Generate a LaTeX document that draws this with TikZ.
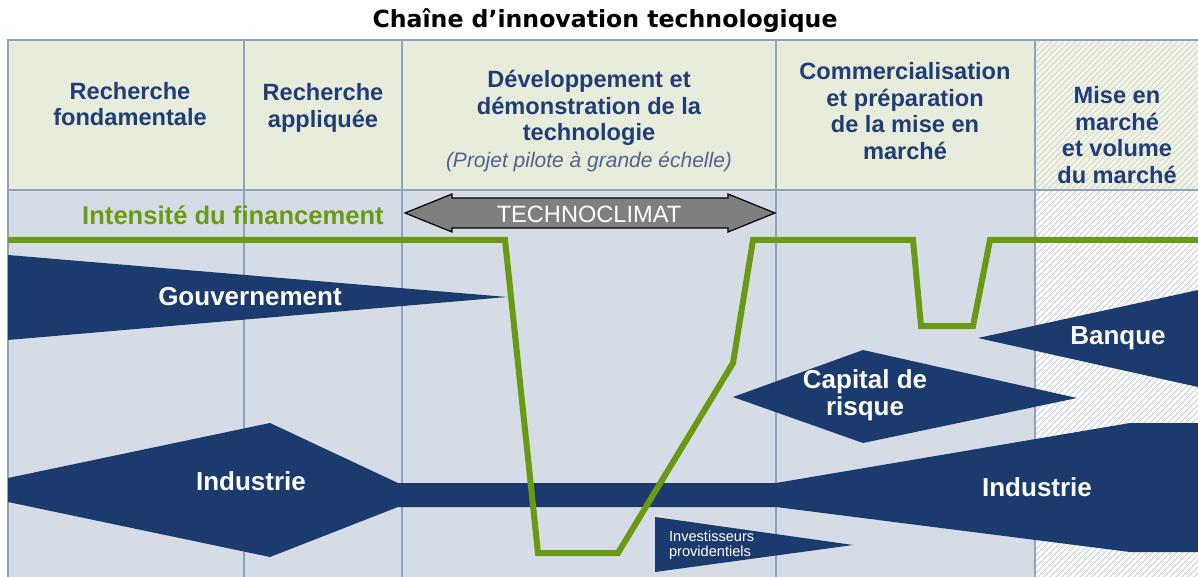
\documentclass[tikz,border=0pt]{standalone}
\usepackage{fontspec}
\setmainfont{Liberation Sans}
\newfontfamily\titlefont{DejaVu Sans}
\usepackage{tikz}
\usetikzlibrary{patterns}
\definecolor{navy}{HTML}{1B3A6E}
\definecolor{headblue}{HTML}{1F3E77}
\definecolor{subblue}{HTML}{4E6490}
\definecolor{headbg}{HTML}{E8ECDA}
\definecolor{lowbg}{HTML}{D6DCE6}
\definecolor{hatchtop}{HTML}{F2F4EA}
\definecolor{hatchtopline}{HTML}{D2D8C2}
\definecolor{hatchline}{HTML}{C6CCD8}
\definecolor{divcol}{HTML}{8EA2C2}
\definecolor{finvert}{HTML}{6A9A14}
\definecolor{arrowgrey}{HTML}{7F7F7F}

\tikzset{
  divider/.style={divcol, line width=1pt},
  financement/.style={finvert, line width=3pt},
  flux/.style={fill=navy},
  fluxtext/.style={text=white, font=\bfseries\fontsize{13}{13.5}\selectfont, align=center},
  head/.style={text=headblue, font=\bfseries\fontsize{11.8}{13.3}\selectfont, align=center}
}

\begin{document}
\begin{tikzpicture}[x=0.5pt, y=-0.5pt]

\useasboundingbox (0,0) rectangle (1198,577);

% fonds
\fill[headbg] (8,40) rectangle (1035,190);
\fill[lowbg] (8,190) rectangle (1198,577);
\fill[hatchtop] (1035,40) rectangle (1198,190);
\fill[pattern=north east lines, pattern color=hatchtopline] (1035,40) rectangle (1198,190);
\fill[white] (1035,190) rectangle (1198,577);
\fill[pattern=north east lines, pattern color=hatchline] (1035,190) rectangle (1198,577);

% cadre et colonnes
\draw[divider] (1198,40) -- (8,40) -- (8,577);
\draw[divider] (8,190) -- (1198,190);
\foreach \x in {244,402,776,1035}
  \draw[divider] (\x,40) -- (\x,577);

% titre
\node[font=\titlefont\bfseries\fontsize{11.8}{14}\selectfont] (titre) at (605,21) {Chaîne d’innovation technologique};

% en-tetes
\node[head] (fondam) at (130,104) {Recherche\\fondamentale};
\node[head] (appliq) at (323,108) {Recherche\\appliquée};
\node[head] (demo) at (589,121) {Développement et\\démonstration de la\\technologie\\{\mdseries\itshape\fontsize{10.5}{13.3}\selectfont\color{subblue}(Projet pilote à grande échelle)}};
\node[head] (commerc) at (905,111) {Commercialisation\\et préparation\\de la mise en\\marché};
\node[head] (marche) at (1117,135) {Mise en\\marché\\et volume\\du marché};

% flux de financement
\fill[flux] (8,255) -- (507,297) -- (8,340) -- cycle;
\node[fluxtext] (gouv) at (250,297) {Gouvernement};

\fill[flux] (8,478) -- (270,423) -- (398,483) -- (776,483) -- (1130,423) -- (1198,423)
  -- (1198,552) -- (1130,552) -- (776,507) -- (398,507) -- (270,557) -- (8,502) -- cycle;
\node[fluxtext] (indus1) at (251,481) {Industrie};
\node[fluxtext] (indus2) at (1037,487) {Industrie};

\fill[flux] (733,397) -- (863,350) -- (1077,398) -- (863,443) -- cycle;
\node[fluxtext] (capital) at (865,395) {Capital de\\risque};

\fill[flux] (978,338) -- (1198,290) -- (1198,387) -- cycle;
\node[fluxtext] (banque) at (1118,338) {Banque};

\fill[flux] (655,517) -- (853,545) -- (655,572) -- cycle;
\node[text=white, font=\fontsize{7.3}{7.6}\selectfont, align=left, anchor=west] (invest) at (662,545) {Investisseurs\\providentiels};

% TECHNOCLIMAT
\draw[fill=arrowgrey, line width=0.6pt] (405,213) -- (452,194) -- (452,198) -- (728,198) -- (728,194)
  -- (775,213) -- (728,232) -- (728,228) -- (452,228) -- (452,232) -- cycle;
\node[text=white, font=\fontsize{11.8}{13}\selectfont] (techno) at (589,214) {TECHNOCLIMAT};

% intensite du financement
\node[text=finvert, font=\bfseries\fontsize{12.8}{14}\selectfont] (intens) at (233,215) {Intensité du financement};
\draw[financement] (8,240) -- (505,240) -- (538,553) -- (618,553) -- (733,363) -- (753,240)
  -- (913,240) -- (921,326) -- (973,326) -- (990,240) -- (1198,240);

\end{tikzpicture}
\end{document}
